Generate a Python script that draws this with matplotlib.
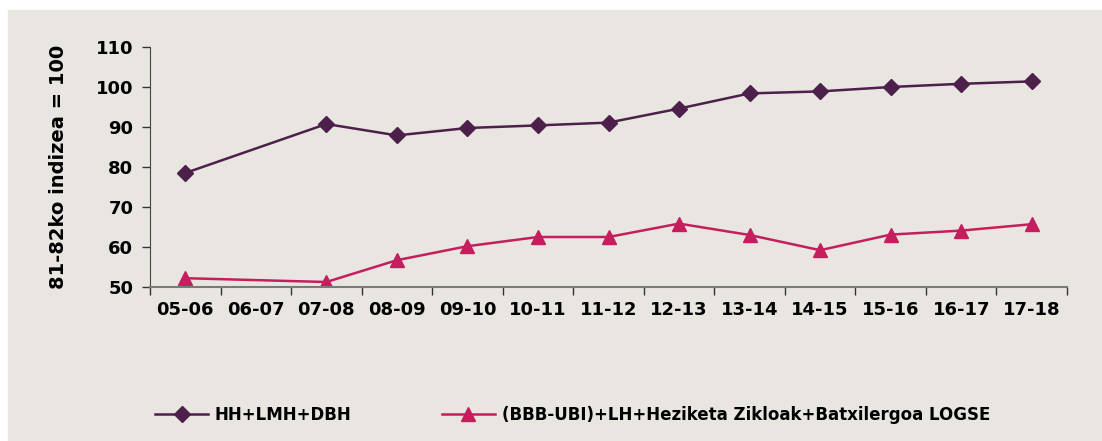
import numpy as np
import matplotlib.pyplot as plt

# Data
categories = ['05-06', '06-07', '07-08', '08-09', '09-10', '10-11', '11-12',
              '12-13', '13-14', '14-15', '15-16', '16-17', '17-18']
hh_lmh_dbh = [78.5, np.nan, 90.75, 87.9, 89.75, 90.4, 91.1, 94.6, 98.4, 98.9, 100.0, 100.8, 101.4]
bbb_logse = [52.2, np.nan, 51.25, 56.7, 60.2, 62.5, 62.5, 65.85, 63.0, 59.2, 63.1, 64.1, 65.7]

name_1 = 'HH+LMH+DBH'
name_2 = '(BBB-UBI)+LH+Heziketa Zikloak+Batxilergoa LOGSE'

bg = '#e9e6e2'
purple = '#4d1f4b'
pink = '#c41e5f'

fig = plt.figure(figsize=(11.02, 4.41), dpi=100)
fig.patches.append(plt.Rectangle((8 / 1102, 0), 1, 1 - 10 / 441,
                                 transform=fig.transFigure, color=bg, zorder=-10))
ax = fig.add_axes([150 / 1102, 1 - 287 / 441, 917 / 1102, 240 / 441])
ax.set_facecolor(bg)

x = np.arange(len(categories))
y1 = np.array(hh_lmh_dbh)
y2 = np.array(bbb_logse)
m1 = ~np.isnan(y1)
m2 = ~np.isnan(y2)
ax.plot(x[m1], y1[m1], color=purple, lw=1.8, marker='D', markersize=8, label=name_1)
ax.plot(x[m2], y2[m2], color=pink, lw=1.8, marker='^', markersize=9.5, label=name_2)

ax.set_xlim(-0.5, len(categories) - 0.5)
ax.set_ylim(50, 110)
ax.set_yticks(np.arange(50, 111, 10))
ax.set_xticks(np.arange(-0.5, len(categories), 1))
ax.set_xticklabels([])
ax.set_xticks(x, minor=True)
ax.set_xticklabels(categories, minor=True)
ax.tick_params(axis='x', which='minor', length=0, pad=10)
ax.tick_params(axis='x', which='major', length=6, color='#333333', width=1)
ax.tick_params(axis='y', length=6, color='#333333', width=1, pad=6)

for lab in ax.get_xticklabels(minor=True) + ax.get_yticklabels():
    lab.set_fontsize(13)
    lab.set_fontweight('bold')

for s in ['top', 'right']:
    ax.spines[s].set_visible(False)
ax.spines['left'].set_color('#444444')
ax.spines['bottom'].set_color('#7a7a7a')
ax.spines['bottom'].set_linewidth(1.5)

ax.set_ylabel('81-82ko indizea = 100', fontsize=14, fontweight='bold', labelpad=20)

fig.legend(loc='center left', bbox_to_anchor=(140 / 1102, 1 - 415 / 441), ncol=2,
           frameon=False, handlelength=3.2, columnspacing=5.4, handletextpad=0.4,
           prop={'size': 12, 'weight': 'bold'})

fig.savefig('out.png', dpi=100, facecolor='white')
